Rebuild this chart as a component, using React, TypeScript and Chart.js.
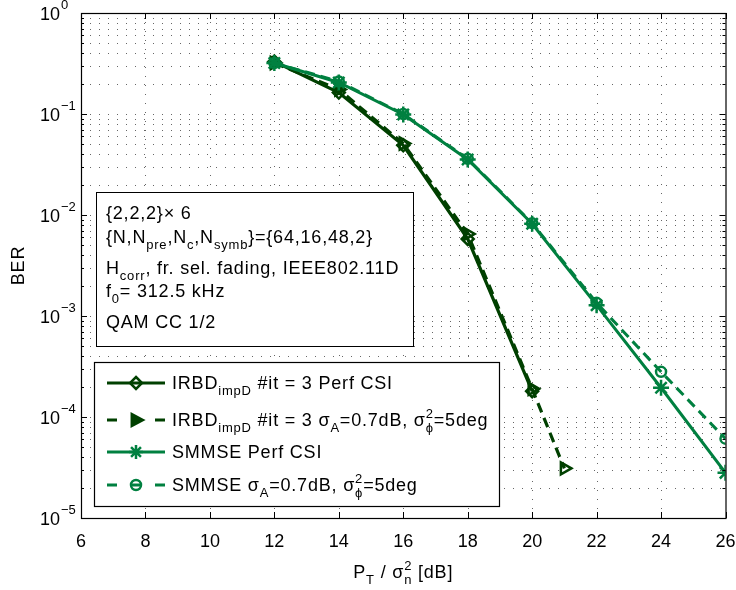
import React, { useEffect, useRef } from 'react';
import { Chart, registerables } from 'chart.js';

Chart.register(...registerables);

// ---------- data ----------
const xIrbdPerf = [12, 14, 16, 18, 20];
const berIrbdPerf = [0.33, 0.163, 0.049, 0.0058, 1.8e-4];
const xIrbdImp = [12, 14, 16, 18, 20, 21];
const berIrbdImp = [0.32, 0.175, 0.051, 0.0065, 1.9e-4, 3.1e-5];
const xSmmsePerf = [12, 14, 16, 18, 20, 22, 24, 26];
const berSmmsePerf = [0.32, 0.205, 0.099, 0.0355, 0.0082, 0.00128, 1.95e-4, 2.8e-5];
const xSmmseImp = [12, 14, 16, 18, 20, 22, 24, 26];
const berSmmseImp = [0.32, 0.21, 0.1, 0.036, 0.0083, 0.00135, 2.8e-4, 6.1e-5];

const xTickValues = [6, 8, 10, 12, 14, 16, 18, 20, 22, 24, 26];
const yDecadeExponents = [0, -1, -2, -3, -4, -5];

const DARK = 'rgb(0,64,0)';
const LIGHT = 'rgb(0,128,64)';
const FONT = '"Liberation Sans", Arial, Helvetica, sans-serif';
const SPACING = '0.8px';

type Seg = { t: string; k?: 'n' | 'sub' | 'sup' | 'ss'; sup?: string };

function segWidth(ctx: CanvasRenderingContext2D, s: Seg, size: number, small: number) {
  const k = s.k || 'n';
  if (k === 'n') {
    ctx.font = `${size}px ${FONT}`;
    return ctx.measureText(s.t).width;
  }
  ctx.font = `${small}px ${FONT}`;
  let w = ctx.measureText(s.t).width;
  if (k === 'ss' && s.sup) w = Math.max(w, ctx.measureText(s.sup).width);
  return w;
}

function drawRich(
  ctx: CanvasRenderingContext2D,
  x: number,
  y: number,
  segs: Seg[],
  size = 18,
  align: 'left' | 'center' = 'left'
) {
  const small = Math.round(size * 0.72);
  ctx.save();
  (ctx as any).letterSpacing = SPACING;
  let total = 0;
  for (const s of segs) total += segWidth(ctx, s, size, small);
  let cx = align === 'center' ? x - total / 2 : x;
  ctx.fillStyle = '#000';
  ctx.textBaseline = 'alphabetic';
  ctx.textAlign = 'left';
  for (const s of segs) {
    const k = s.k || 'n';
    const w = segWidth(ctx, s, size, small);
    if (k === 'n') {
      ctx.font = `${size}px ${FONT}`;
      ctx.fillText(s.t, cx, y);
    } else {
      ctx.font = `${small}px ${FONT}`;
      if (k === 'sub') ctx.fillText(s.t, cx, y + size * 0.36);
      if (k === 'sup') ctx.fillText(s.t, cx, y - size * 0.45);
      if (k === 'ss') {
        ctx.fillText(s.t, cx, y + size * 0.36);
        if (s.sup) ctx.fillText(s.sup, cx, y - size * 0.45);
      }
    }
    cx += w;
  }
  ctx.restore();
}

function drawMarker(ctx: CanvasRenderingContext2D, style: string, x: number, y: number, r: number, color: string, lw: number) {
  ctx.save();
  ctx.strokeStyle = color;
  ctx.fillStyle = color;
  ctx.lineWidth = lw;
  ctx.setLineDash([]);
  ctx.beginPath();
  if (style === 'diamond') {
    ctx.moveTo(x, y - r);
    ctx.lineTo(x + r, y);
    ctx.lineTo(x, y + r);
    ctx.lineTo(x - r, y);
    ctx.closePath();
    ctx.stroke();
  } else if (style === 'triangle') {
    ctx.moveTo(x + r, y);
    ctx.lineTo(x - r * 0.6, y - r * 0.85);
    ctx.lineTo(x - r * 0.6, y + r * 0.85);
    ctx.closePath();
    ctx.fill();
    ctx.stroke();
  } else if (style === 'star') {
    for (let i = 0; i < 4; i++) {
      const a = (i * Math.PI) / 4;
      ctx.moveTo(x + Math.cos(a) * r, y + Math.sin(a) * r);
      ctx.lineTo(x - Math.cos(a) * r, y - Math.sin(a) * r);
    }
    ctx.stroke();
  } else if (style === 'circle') {
    ctx.arc(x, y, r, 0, Math.PI * 2);
    ctx.stroke();
  }
  ctx.restore();
}

const gridPlugin = {
  id: 'matlabGrid',
  beforeDatasetsDraw(chart: any) {
    const { ctx, chartArea: a, scales } = chart;
    const xs = scales.x;
    const ys = scales.y;
    ctx.save();
    ctx.strokeStyle = '#666';
    ctx.lineWidth = 1;
    ctx.setLineDash([1, 8]);
    for (const v of xTickValues) {
      const px = Math.round(xs.getPixelForValue(v)) + 0.5;
      if (px <= a.left + 1 || px >= a.right - 1) continue;
      ctx.beginPath();
      ctx.moveTo(px, a.bottom);
      ctx.lineTo(px, a.top);
      ctx.stroke();
    }
    for (const e of yDecadeExponents) {
      if (e === 0) continue;
      for (let m = 1; m <= 9; m++) {
        const v = m * Math.pow(10, e);
        const py = Math.round(ys.getPixelForValue(v)) + 0.5;
        if (py <= a.top + 1 || py >= a.bottom - 1) continue;
        ctx.beginPath();
        ctx.moveTo(a.left, py);
        ctx.lineTo(a.right, py);
        ctx.stroke();
      }
    }
    ctx.restore();
  },
};

const overlayPlugin = {
  id: 'matlabOverlay',
  afterDatasetsDraw(chart: any) {
    const { ctx, chartArea: a, scales } = chart;
    const xs = scales.x;
    const ys = scales.y;
    ctx.save();
    // axes box
    ctx.strokeStyle = '#000';
    ctx.lineWidth = 1.2;
    ctx.setLineDash([]);
    ctx.strokeRect(a.left + 0.5, a.top + 0.5, a.right - a.left, a.bottom - a.top);
    // ticks
    ctx.lineWidth = 1;
    ctx.beginPath();
    for (const v of xTickValues) {
      const px = Math.round(xs.getPixelForValue(v)) + 0.5;
      ctx.moveTo(px, a.bottom);
      ctx.lineTo(px, a.bottom - 6);
      ctx.moveTo(px, a.top);
      ctx.lineTo(px, a.top + 6);
    }
    for (const e of yDecadeExponents) {
      for (let m = 1; m <= 9; m++) {
        if (e === 0 && m > 1) continue;
        const v = m * Math.pow(10, e);
        const py = Math.round(ys.getPixelForValue(v)) + 0.5;
        const len = m === 1 ? 6 : 3;
        ctx.moveTo(a.left, py);
        ctx.lineTo(a.left + len, py);
        ctx.moveTo(a.right, py);
        ctx.lineTo(a.right - len, py);
      }
    }
    ctx.stroke();

    // x tick labels
    ctx.fillStyle = '#000';
    ctx.font = `18px ${FONT}`;
    ctx.textAlign = 'center';
    ctx.textBaseline = 'top';
    for (const v of xTickValues) {
      ctx.fillText(String(v), xs.getPixelForValue(v), a.bottom + 15);
    }
    // y tick labels (10^k)
    for (const e of yDecadeExponents) {
      const py = ys.getPixelForValue(Math.pow(10, e));
      ctx.font = `18px ${FONT}`;
      ctx.textAlign = 'right';
      ctx.textBaseline = 'alphabetic';
      ctx.fillText('10', 60, py + 7);
      ctx.font = `13px ${FONT}`;
      ctx.textAlign = 'left';
      ctx.fillText(e === 0 ? '0' : '\u2212' + String(-e), 61, py - 4);
    }

    // axis titles
    ctx.save();
    ctx.translate(24, (a.top + a.bottom) / 2);
    ctx.rotate(-Math.PI / 2);
    ctx.font = `18px ${FONT}`;
    (ctx as any).letterSpacing = SPACING;
    ctx.textAlign = 'center';
    ctx.textBaseline = 'alphabetic';
    ctx.fillText('BER', 0, 0);
    ctx.restore();
    drawRich(
      ctx,
      (a.left + a.right) / 2,
      578,
      [
        { t: 'P' },
        { t: 'T', k: 'sub' },
        { t: ' / \u03c3' },
        { t: 'n', k: 'ss', sup: '2' },
        { t: ' [dB]' },
      ],
      18,
      'center'
    );

    // annotation text box
    ctx.fillStyle = '#fff';
    ctx.fillRect(96.5, 192.5, 317, 154);
    ctx.strokeStyle = '#000';
    ctx.lineWidth = 1;
    ctx.strokeRect(96.5, 192.5, 317, 154);
    const tx = 106;
    drawRich(ctx, tx, 219, [{ t: '{2,2,2}\u00d7 6' }]);
    drawRich(ctx, tx, 243, [
      { t: '{N,N' },
      { t: 'pre', k: 'sub' },
      { t: ',N' },
      { t: 'c', k: 'sub' },
      { t: ',N' },
      { t: 'symb', k: 'sub' },
      { t: '}={64,16,48,2}' },
    ]);
    drawRich(ctx, tx, 274, [{ t: 'H' }, { t: 'corr', k: 'sub' }, { t: ', fr. sel. fading, IEEE802.11D' }]);
    drawRich(ctx, tx, 297, [{ t: 'f' }, { t: '0', k: 'sub' }, { t: '= 312.5 kHz' }]);
    drawRich(ctx, tx, 328, [{ t: 'QAM CC 1/2' }]);

    // legend box
    ctx.fillStyle = '#fff';
    ctx.fillRect(94.5, 362.5, 405, 144);
    ctx.strokeStyle = '#000';
    ctx.lineWidth = 1.2;
    ctx.strokeRect(94.5, 362.5, 405, 144);

    const entries: { y: number; color: string; dashed: boolean; marker: string; r: number; segs: Seg[] }[] = [
      {
        y: 383,
        color: DARK,
        dashed: false,
        marker: 'diamond',
        r: 6,
        segs: [{ t: 'IRBD' }, { t: 'impD', k: 'sub' }, { t: ' #it = 3 Perf CSI' }],
      },
      {
        y: 420,
        color: DARK,
        dashed: true,
        marker: 'triangle',
        r: 7,
        segs: [
          { t: 'IRBD' },
          { t: 'impD', k: 'sub' },
          { t: ' #it = 3 \u03c3' },
          { t: 'A', k: 'sub' },
          { t: '=0.7dB, \u03c3' },
          { t: '\u03d5', k: 'ss', sup: '2' },
          { t: '=5deg' },
        ],
      },
      {
        y: 452,
        color: LIGHT,
        dashed: false,
        marker: 'star',
        r: 7,
        segs: [{ t: 'SMMSE Perf CSI' }],
      },
      {
        y: 485,
        color: LIGHT,
        dashed: true,
        marker: 'circle',
        r: 5,
        segs: [
          { t: 'SMMSE \u03c3' },
          { t: 'A', k: 'sub' },
          { t: '=0.7dB, \u03c3' },
          { t: '\u03d5', k: 'ss', sup: '2' },
          { t: '=5deg' },
        ],
      },
    ];
    for (const en of entries) {
      ctx.strokeStyle = en.color;
      ctx.lineWidth = 3;
      ctx.setLineDash([]);
      ctx.beginPath();
      if (en.dashed) {
        ctx.moveTo(107, en.y);
        ctx.lineTo(117, en.y);
        ctx.moveTo(155, en.y);
        ctx.lineTo(165, en.y);
      } else {
        ctx.moveTo(107, en.y);
        ctx.lineTo(165, en.y);
      }
      ctx.stroke();
      if (en.marker === 'circle') {
        ctx.beginPath();
        ctx.moveTo(131, en.y);
        ctx.lineTo(141, en.y);
        ctx.stroke();
      }
      drawMarker(ctx, en.marker, 136, en.y, en.r, en.color, 2.5);
      drawRich(ctx, 172, en.y + 6, en.segs, 18);
    }
    ctx.restore();
  },
};

function pts(xs: number[], ys: number[]) {
  return xs.map((x, i) => ({ x, y: ys[i] }));
}

export default function App() {
  const ref = useRef<HTMLCanvasElement>(null);
  useEffect(() => {
    const chart = new Chart(ref.current as HTMLCanvasElement, {
      type: 'line',
      data: {
        datasets: [
          {
            label: 'IRBD impD #it = 3 Perf CSI',
            data: pts(xIrbdPerf, berIrbdPerf),
            borderColor: DARK,
            backgroundColor: 'rgba(0,0,0,0)',
            borderWidth: 3.2,
            pointStyle: 'rectRot',
            pointRadius: 6,
            pointBorderWidth: 2.5,
            pointBorderColor: DARK,
            pointBackgroundColor: 'rgba(0,0,0,0)',
            order: 4,
          },
          {
            label: 'IRBD impD #it = 3 σA=0.7dB, σφ2=5deg',
            data: pts(xIrbdImp, berIrbdImp),
            borderColor: DARK,
            backgroundColor: 'rgba(0,0,0,0)',
            borderWidth: 3.2,
            borderDash: [10, 6],
            pointStyle: 'triangle',
            rotation: 90,
            pointRadius: 7,
            pointBorderWidth: 2.5,
            pointBorderColor: DARK,
            pointBackgroundColor: 'rgba(0,0,0,0)',
            order: 3,
          },
          {
            label: 'SMMSE Perf CSI',
            data: pts(xSmmsePerf, berSmmsePerf),
            borderColor: LIGHT,
            backgroundColor: 'rgba(0,0,0,0)',
            borderWidth: 3,
            pointStyle: 'star',
            pointRadius: 8,
            pointBorderWidth: 2.5,
            pointBorderColor: LIGHT,
            pointBackgroundColor: 'rgba(0,0,0,0)',
            order: 2,
          },
          {
            label: 'SMMSE σA=0.7dB, σφ2=5deg',
            data: pts(xSmmseImp, berSmmseImp),
            borderColor: LIGHT,
            backgroundColor: 'rgba(0,0,0,0)',
            borderWidth: 3,
            borderDash: [10, 6],
            pointStyle: 'circle',
            pointRadius: 5,
            pointBorderWidth: 2.5,
            pointBorderColor: LIGHT,
            pointBackgroundColor: 'rgba(0,0,0,0)',
            order: 1,
          },
        ],
      },
      options: {
        responsive: false,
        maintainAspectRatio: false,
        animation: false,
        devicePixelRatio: 1,
        layout: { padding: { left: 81, right: 10, top: 13, bottom: 72 } },
        plugins: { legend: { display: false }, tooltip: { enabled: false } },
        elements: { line: { tension: 0 } },
        scales: {
          x: { type: 'linear', min: 6, max: 26, display: false },
          y: { type: 'logarithmic', min: 1e-5, max: 1, display: false },
        },
      },
      plugins: [gridPlugin, overlayPlugin],
    } as any);
    return () => chart.destroy();
  }, []);
  return (
    <div style={{ position: 'fixed', left: 0, top: 0, width: 736, height: 590, background: '#fff' }}>
      <canvas ref={ref} width={736} height={590} style={{ display: 'block' }} />
    </div>
  );
}
